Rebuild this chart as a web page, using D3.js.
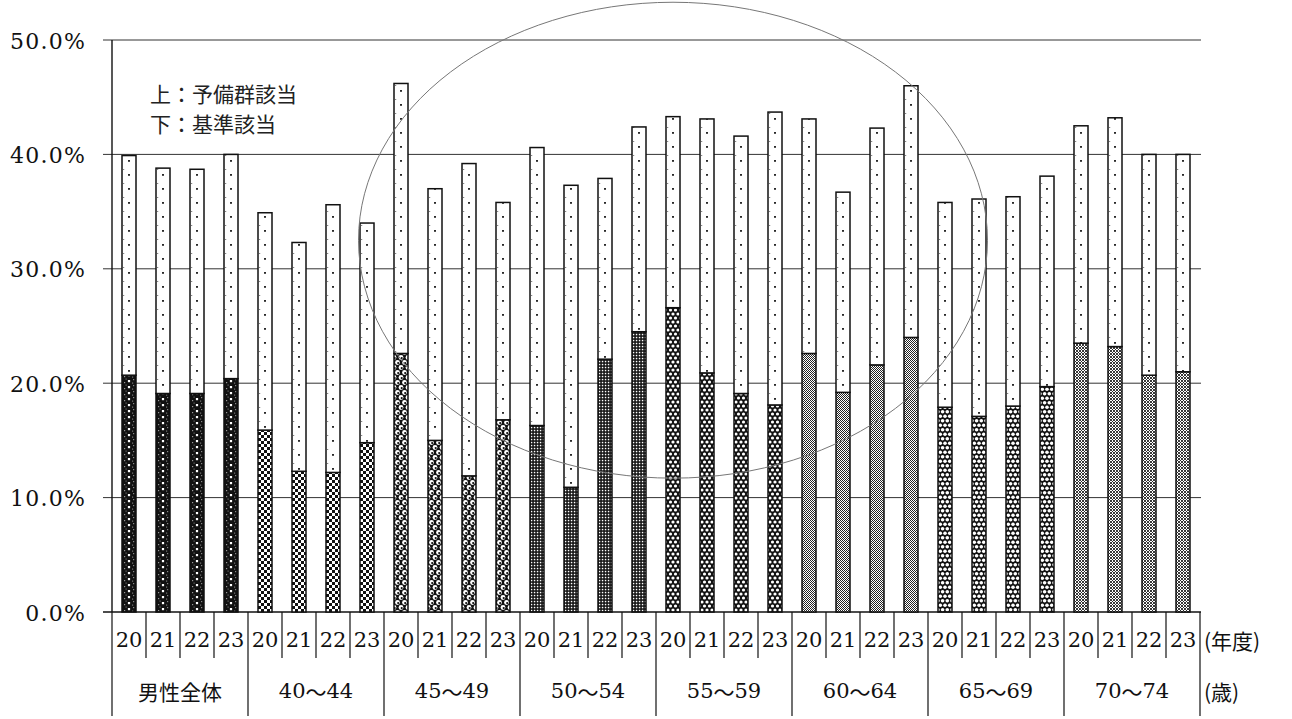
<!DOCTYPE html>
<html>
<head>
<meta charset="utf-8">
<script src="https://cdn.jsdelivr.net/npm/d3@7"></script>
<style>
  html, body { margin: 0; padding: 0; background: #fff; }
  svg { display: block; }
</style>
</head>
<body>
<svg id="chart" width="1292" height="719"></svg>
<script>
// ---- data -----------------------------------------------------------
const groups = ["男性全体", "40～44", "45～49", "50～54", "55～59", "60～64", "65～69", "70～74"];
const years = ["20", "21", "22", "23"];

// 基準該当 (lower segment), % per group and fiscal year 20–23
const kijun = [
  [20.7, 19.1, 19.1, 20.4],
  [15.9, 12.3, 12.2, 14.8],
  [22.6, 15.0, 11.9, 16.8],
  [16.3, 10.9, 22.1, 24.5],
  [26.6, 20.9, 19.1, 18.1],
  [22.6, 19.2, 21.6, 24.0],
  [17.9, 17.1, 18.0, 19.7],
  [23.5, 23.2, 20.7, 21.0]
];

// 予備群該当 (upper segment), % per group and fiscal year 20–23
const yobigun = [
  [19.2, 19.7, 19.6, 19.6],
  [19.0, 20.0, 23.4, 19.2],
  [23.6, 22.0, 27.3, 19.0],
  [24.3, 26.4, 15.8, 17.9],
  [16.7, 22.2, 22.5, 25.6],
  [20.5, 17.5, 20.7, 22.0],
  [17.9, 19.0, 18.3, 18.4],
  [19.0, 20.0, 19.3, 19.0]
];

const yTicks = [0, 10, 20, 30, 40, 50];
const legendLines = ["上：予備群該当", "下：基準該当"];
const yearUnit = "(年度)";
const ageUnit = "(歳)";

// ---- layout ---------------------------------------------------------
const W = 1292, H = 719;
const plot = { left: 112, right: 1200, top: 40, bottom: 612 };
const serif = "'DejaVu Serif', 'Liberation Serif', serif";
const cjk = "'Noto Sans CJK JP', 'Noto Sans', sans-serif";

const rows = [];
groups.forEach((g, gi) => years.forEach((yr, yi) => rows.push({
  key: gi + "-" + yr, gi, yr, kijun: kijun[gi][yi], yobigun: yobigun[gi][yi]
})));

const stacked = d3.stack().keys(["kijun", "yobigun"])(rows);

const step = (plot.right - plot.left) / rows.length;       // 34 px per column
const x = d3.scaleBand()
  .domain(rows.map(d => d.key))
  .range([plot.left, plot.right])
  .paddingInner(20 / 34)
  .paddingOuter(10 / 34);
const y = d3.scaleLinear().domain([0, 50]).range([plot.bottom, plot.top]);
const bw = x.bandwidth();
const x0 = x(rows[0].key);

const svg = d3.select("#chart");
svg.append("rect").attr("width", W).attr("height", H).attr("fill", "#fff");

// ---- fill patterns (tiles repeat once per column) -------------------
const defs = svg.append("defs");
function pattern(id, h) {
  return defs.append("pattern")
    .attr("id", id)
    .attr("patternUnits", "userSpaceOnUse")
    .attr("x", x0).attr("y", 0)
    .attr("width", step).attr("height", h);
}
function bg(p, h, color) {
  p.append("rect").attr("width", bw).attr("height", h).attr("fill", color);
}

// upper segment: white with a sparse column of dots
{
  const h = 14, p = pattern("pUpper", h);
  bg(p, h, "#fff");
  p.append("rect").attr("x", bw / 2 - 0.9).attr("y", 6).attr("width", 1.8).attr("height", 1.8).attr("fill", "#111");
  p.append("rect").attr("x", 1.2).attr("y", 1).attr("width", 1).attr("height", 1).attr("fill", "#666");
}
// 男性全体: black with a white dot column
{
  const h = 6, p = pattern("p0", h);
  bg(p, h, "#111");
  p.append("rect").attr("x", bw / 2 - 1.1).attr("y", 2).attr("width", 2.2).attr("height", 2.2).attr("fill", "#fff");
  [[2, 4, "#999"], [11, 1, "#888"], [3.5, 0.5, "#666"], [10, 4.5, "#777"]].forEach(([a, b, c]) =>
    p.append("rect").attr("x", a).attr("y", b).attr("width", 1.2).attr("height", 1.2).attr("fill", c));
}
// 40～44: open checkerboard
{
  const h = 6, c = 3, p = pattern("p1", h);
  bg(p, h, "#fff");
  for (let r = 0; r < 2; r++) for (let k = 0; k * c < bw; k++)
    if ((r + k) % 2 === 0) p.append("rect").attr("x", k * c).attr("y", r * c)
      .attr("width", Math.min(c, bw - k * c)).attr("height", c).attr("fill", "#111");
}
// 45～49: bubbles
{
  const h = 10, p = pattern("p2", h);
  bg(p, h, "#111");
  [[3.5, 2.5], [10.5, 2.5], [0, 7.5], [7, 7.5], [14, 7.5]].forEach(([cx, cy]) => {
    p.append("circle").attr("cx", cx).attr("cy", cy).attr("r", 2.4).attr("fill", "#fff");
    p.append("circle").attr("cx", cx + 0.7).attr("cy", cy + 0.6).attr("r", 1.1).attr("fill", "#111");
  });
}
// 50～54: fine mesh
{
  const h = 3, p = pattern("p3", h);
  bg(p, h, "#111");
  for (let k = 0; k * 3 < bw; k++)
    p.append("rect").attr("x", k * 3 + 0.8).attr("y", 0.8).attr("width", 1.5).attr("height", 1.5).attr("fill", "#fff");
}
// 55～59: dark check with white holes
{
  const h = 8, p = pattern("p4", h);
  bg(p, h, "#111");
  [[2, 2], [7, 2], [12, 2], [-0.5, 6], [4.5, 6], [9.5, 6], [14.5, 6]].forEach(([cx, cy]) =>
    p.append("circle").attr("cx", cx).attr("cy", cy).attr("r", 1.6).attr("fill", "#fff"));
}
// 60～64: fine stipple
{
  const h = 4, p = pattern("p5", h);
  bg(p, h, "#fff");
  for (let r = 0; r < h; r++) for (let k = 0; k < bw; k++)
    if ((r + k) % 2 === 0) p.append("rect").attr("x", k).attr("y", r).attr("width", 1).attr("height", 1).attr("fill", "#222");
}
// 65～69: dark check with larger white holes
{
  const h = 9, p = pattern("p6", h);
  bg(p, h, "#111");
  [[2.3, 2.25], [7, 2.25], [11.7, 2.25], [0, 6.75], [4.6, 6.75], [9.3, 6.75], [14, 6.75]].forEach(([cx, cy]) =>
    p.append("circle").attr("cx", cx).attr("cy", cy).attr("r", 1.8).attr("fill", "#fff"));
}
// 70～74: light crosshatch
{
  const h = 6, p = pattern("p7", h);
  bg(p, h, "#fff");
  for (let a = -h; a <= bw; a += 3) {
    p.append("line").attr("x1", a).attr("y1", 0).attr("x2", a + h).attr("y2", h)
      .attr("stroke", "#222").attr("stroke-width", 0.9);
    p.append("line").attr("x1", a).attr("y1", h).attr("x2", a + h).attr("y2", 0)
      .attr("stroke", "#222").attr("stroke-width", 0.9);
  }
}

// ---- gridlines and axis --------------------------------------------
svg.append("g").selectAll("line").data(yTicks).join("line")
  .attr("x1", plot.left - 9).attr("x2", plot.right + 1)
  .attr("y1", d => y(d)).attr("y2", d => y(d))
  .attr("stroke", d => d === 0 ? "#111" : "#333")
  .attr("stroke-width", d => d === 0 ? 1.4 : 1);

svg.append("g").selectAll("text").data(yTicks).join("text")
  .attr("x", 86).attr("y", d => y(d) + 1)
  .attr("text-anchor", "end").attr("dominant-baseline", "central")
  .attr("font-family", serif).attr("font-size", 22)
  .attr("letter-spacing", 1.2).attr("fill", "#111")
  .text(d => d.toFixed(1) + "%");

// ---- bars ------------------------------------------------------------
const barLayer = svg.append("g");
stacked.forEach(layer => {
  barLayer.append("g").selectAll("rect").data(layer).join("rect")
    .attr("x", d => x(d.data.key))
    .attr("width", bw)
    .attr("y", d => y(d[1]))
    .attr("height", d => y(d[0]) - y(d[1]))
    .attr("fill", d => layer.key === "kijun" ? "url(#p" + d.data.gi + ")" : "url(#pUpper)")
    .attr("stroke", "#111")
    .attr("stroke-width", 1.5);
});

// circled annotation over the middle age bands
svg.append("ellipse")
  .attr("cx", x(rows[16].key) + bw / 2)
  .attr("cy", y(32.5))
  .attr("rx", step * 9.25)
  .attr("ry", y(0) - y(20.8))
  .attr("fill", "none")
  .attr("stroke", "#777")
  .attr("stroke-width", 1);

// left axis line runs down through the category table
svg.append("line")
  .attr("x1", plot.left).attr("x2", plot.left)
  .attr("y1", y(50)).attr("y2", plot.bottom)
  .attr("stroke", "#111").attr("stroke-width", 1.4);

// ---- legend ------------------------------------------------------------
svg.append("g").selectAll("text").data(legendLines).join("text")
  .attr("x", 150).attr("y", (d, i) => 93 + i * 30)
  .attr("dominant-baseline", "central")
  .attr("font-family", cjk).attr("font-size", 21).attr("fill", "#222")
  .text(d => d);

// ---- category table under the axis ----------------------------------
const table = { yearMid: 640, yearBottom: 658, groupMid: 691, bottom: 716 };
const boundaries = d3.range(rows.length + 1).map(i => plot.left + i * step);

svg.append("g").selectAll("line").data(boundaries).join("line")
  .attr("x1", d => d).attr("x2", d => d)
  .attr("y1", plot.bottom)
  .attr("y2", (d, i) => i % years.length === 0 ? table.bottom : table.yearBottom)
  .attr("stroke", "#111").attr("stroke-width", 1.2);

svg.append("g").selectAll("text").data(rows).join("text")
  .attr("x", d => x(d.key) + bw / 2)
  .attr("y", table.yearMid)
  .attr("text-anchor", "middle").attr("dominant-baseline", "central")
  .attr("font-family", serif).attr("font-size", 21).attr("fill", "#111")
  .text(d => d.yr);

// age-band labels: digits in serif, the wave dash in the CJK face
const groupText = svg.append("g").selectAll("text").data(groups).join("text")
  .attr("x", (d, i) => plot.left + (i + 0.5) * years.length * step)
  .attr("y", table.groupMid)
  .attr("text-anchor", "middle").attr("dominant-baseline", "central")
  .attr("font-size", 21).attr("fill", "#111");
groupText.each(function (d) {
  const t = d3.select(this);
  d.split(/(～)/).filter(s => s.length).forEach(part => {
    t.append("tspan")
      .attr("font-family", /^[0-9]+$/.test(part) ? serif : cjk)
      .text(part);
  });
});

svg.append("text")
  .attr("x", plot.right + 4).attr("y", table.yearMid)
  .attr("dominant-baseline", "central")
  .attr("font-family", cjk).attr("font-size", 21).attr("fill", "#111")
  .text(yearUnit);
svg.append("text")
  .attr("x", plot.right + 4).attr("y", table.groupMid)
  .attr("dominant-baseline", "central")
  .attr("font-family", cjk).attr("font-size", 21).attr("fill", "#111")
  .text(ageUnit);
</script>
</body>
</html>
